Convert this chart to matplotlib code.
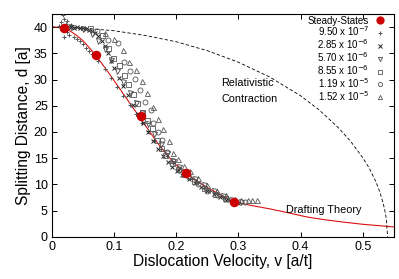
import numpy as np
import matplotlib
matplotlib.use("Agg")
import matplotlib.pyplot as plt

plt.rcParams['font.family'] = ['Liberation Sans', 'DejaVu Sans']

# Steady-state simulations (red dots)
ss_v = [0.019, 0.071, 0.143, 0.215, 0.293]
ss_d = [39.8, 34.7, 23.0, 12.2, 6.6]

# Drafting theory (red line)
draft_v = [0, 0.01, 0.02, 0.03, 0.04, 0.05, 0.06, 0.07, 0.08, 0.09, 0.10, 0.11, 0.12,
           0.13, 0.14, 0.15, 0.16, 0.17, 0.18, 0.19, 0.20, 0.215, 0.23, 0.25, 0.27,
           0.29, 0.32, 0.35, 0.38, 0.41, 0.44, 0.47, 0.50, 0.53, 0.55]
draft_d = [40, 39.95, 39.8, 39.2, 38.4, 37.4, 36.1, 34.7, 33.1, 31.5, 29.8, 28.1, 26.4,
           24.7, 23.0, 21.3, 19.6, 17.9, 16.4, 15.0, 13.7, 12.2, 10.9, 9.4, 8.1,
           6.8, 6.0, 5.35, 4.6, 3.8, 3.25, 2.8, 2.4, 2.1, 1.9]

# Relativistic contraction (dashed line)
rel_v = [0, 0.05, 0.1, 0.15, 0.2, 0.25, 0.3, 0.35, 0.4, 0.43, 0.46, 0.48, 0.5,
         0.51, 0.52, 0.525, 0.53, 0.535, 0.538, 0.54]
rel_d = [40, 39.8, 39.3, 38.4, 37.2, 35.5, 33.3, 30.5, 26.9, 24.2, 20.9, 18.3, 15.1,
         13.2, 10.8, 9.4, 7.6, 5.4, 3.4, 0]

# stress rates, one series each
labels = ['9.50 x 10$^{-7}$', '2.85 x 10$^{-6}$', '5.70 x 10$^{-6}$',
          '8.55 x 10$^{-6}$', '1.19 x 10$^{-5}$', '1.52 x 10$^{-5}$']

v1 = [0.012, 0.015, 0.018, 0.020, 0.022, 0.025, 0.027, 0.020, 0.030, 0.017, 0.024,
      0.035, 0.040, 0.045, 0.050, 0.055, 0.060, 0.065, 0.075, 0.085, 0.095, 0.105,
      0.115, 0.125, 0.135, 0.145, 0.155, 0.165, 0.175, 0.185, 0.195, 0.205, 0.215,
      0.225, 0.235, 0.245, 0.255, 0.265, 0.275, 0.285, 0.295]
d1 = [40.2, 41.0, 42.3, 41.6, 40.6, 39.0, 38.5, 38.2, 40.3, 39.5, 41.2,
      38.2, 37.8, 37.3, 36.8, 36.1, 35.5, 34.8, 33.6, 32.0, 30.3, 28.6,
      26.9, 25.2, 23.5, 21.8, 20.1, 18.4, 16.8, 15.4, 14.1, 12.9, 11.9,
      11.0, 10.2, 9.4, 8.8, 8.2, 7.6, 7.1, 6.6]

v2 = [0.025, 0.030, 0.035, 0.040, 0.045, 0.050, 0.055, 0.060, 0.065, 0.070, 0.075,
      0.080, 0.085, 0.090, 0.095, 0.100, 0.108, 0.115, 0.122, 0.130, 0.138, 0.146,
      0.154, 0.162, 0.170, 0.178, 0.186, 0.194, 0.202, 0.210, 0.220, 0.230, 0.240,
      0.250, 0.260, 0.270, 0.280, 0.290, 0.300]
d2 = [40.0, 40.1, 39.9, 40.0, 39.8, 39.9, 39.7, 39.5, 39.3, 38.9, 38.3,
      37.4, 36.3, 35.0, 33.6, 32.2, 30.3, 28.7, 27.0, 25.2, 23.5, 21.7,
      20.0, 18.3, 16.8, 15.4, 14.2, 13.3, 12.5, 11.8, 11.0, 10.2, 9.5,
      8.8, 8.2, 7.6, 7.1, 6.7, 6.4]

v3 = [0.030, 0.050, 0.065, 0.075, 0.085, 0.095, 0.105, 0.115, 0.125, 0.135, 0.145,
      0.155, 0.165, 0.175, 0.185, 0.195, 0.205, 0.215, 0.230, 0.245, 0.260, 0.275,
      0.290, 0.305]
d3 = [40.0, 39.6, 38.6, 37.4, 35.8, 33.8, 31.6, 29.5, 27.5, 25.6, 23.6,
      21.6, 19.6, 17.7, 16.0, 14.5, 13.3, 12.3, 11.0, 9.8, 8.7, 7.8,
      7.0, 6.6]

v4 = [0.061, 0.080, 0.090, 0.098, 0.108, 0.116, 0.122, 0.130, 0.137, 0.145, 0.153,
      0.161, 0.169, 0.176, 0.182, 0.193, 0.203, 0.213, 0.228, 0.245, 0.262, 0.278,
      0.292]
d4 = [39.8, 38.5, 36.0, 34.1, 32.8, 30.9, 29.1, 27.2, 25.5, 23.9, 22.3,
      20.8, 18.5, 17.0, 15.6, 14.1, 12.9, 12.0, 10.7, 9.4, 8.2, 7.4,
      6.8]

v5 = [0.072, 0.090, 0.106, 0.116, 0.125, 0.133, 0.141, 0.150, 0.159, 0.162, 0.170,
      0.177, 0.185, 0.195, 0.205, 0.220, 0.235, 0.250, 0.265, 0.280, 0.295, 0.310]
d5 = [39.3, 37.5, 37.0, 33.3, 31.6, 30.1, 28.0, 25.7, 24.2, 21.7, 20.0,
      18.5, 16.2, 14.5, 13.0, 11.4, 10.0, 8.8, 7.9, 7.2, 6.8, 6.7]

v6 = [0.085, 0.100, 0.114, 0.124, 0.135, 0.145, 0.153, 0.162, 0.170, 0.178, 0.188,
      0.195, 0.203, 0.212, 0.222, 0.235, 0.250, 0.265, 0.280, 0.295, 0.305, 0.315,
      0.322, 0.330]
d6 = [38.8, 37.8, 35.6, 33.3, 31.8, 29.7, 27.4, 24.8, 22.5, 20.6, 18.3,
      16.0, 14.9, 13.6, 12.5, 11.2, 9.9, 8.8, 7.9, 7.2, 7.0, 7.0,
      7.1, 7.1]

series_v = [v1, v2, v3, v4, v5, v6]
series_d = [d1, d2, d3, d4, d5, d6]
markers = ['+', 'x', 'v', 's', 'o', '^']
colors = ['#555555', '#222222', '#444444', '#555555', '#555555', '#555555']

fig = plt.figure(figsize=(3.99, 2.79), dpi=100)
ax = fig.add_axes([0.130, 0.151, 0.857, 0.799])

ax.plot(draft_v, draft_d, color='#dd1111', lw=0.8, zorder=2)
ax.plot(rel_v, rel_d, color='black', lw=0.6, dashes=(4, 2.5), zorder=2)

ax.plot(ss_v, ss_d, 'o', color='#cc0000', ms=5.8, zorder=5, label='Steady-States')
for vs, ds, m, c, lab in zip(series_v, series_d, markers, colors, labels):
    if m in ('+', 'x'):
        ax.plot(vs, ds, m, color=c, ms=3.5, mew=0.7, ls='none', label=lab, zorder=3)
    else:
        ax.plot(vs, ds, m, mfc='none', mec=c, ms=3.6, mew=0.6, ls='none', label=lab, zorder=3)

ax.text(0.273, 29.4, 'Relativistic', fontsize=7.8, va='center')
ax.text(0.273, 26.2, 'Contraction', fontsize=7.8, va='center')
ax.text(0.376, 5.2, 'Drafting Theory', fontsize=7.8, va='center')

ax.set_xlim(0, 0.55)
ax.set_ylim(0, 42.5)
ax.set_xticks([0, 0.1, 0.2, 0.3, 0.4, 0.5])
ax.set_xticklabels(['0', '0.1', '0.2', '0.3', '0.4', '0.5'])
ax.set_yticks(range(0, 41, 5))
ax.tick_params(direction='in', top=True, right=True, length=3.5, width=0.7,
               labelsize=9, pad=3)
for s in ax.spines.values():
    s.set_linewidth(0.8)

ax.set_xlabel('Dislocation Velocity, v [a/t]', fontsize=11.2, labelpad=1)
ax.set_ylabel('Splitting Distance, d [a]', fontsize=11.2, labelpad=2)

leg = ax.legend(loc='upper right', bbox_to_anchor=(0.985, 1.01), frameon=False,
                markerfirst=False, fontsize=7, handlelength=1.0, handletextpad=0.6,
                labelspacing=-0.1, borderaxespad=0.0, markerscale=0.85)

fig.savefig('out.png', dpi=100)
